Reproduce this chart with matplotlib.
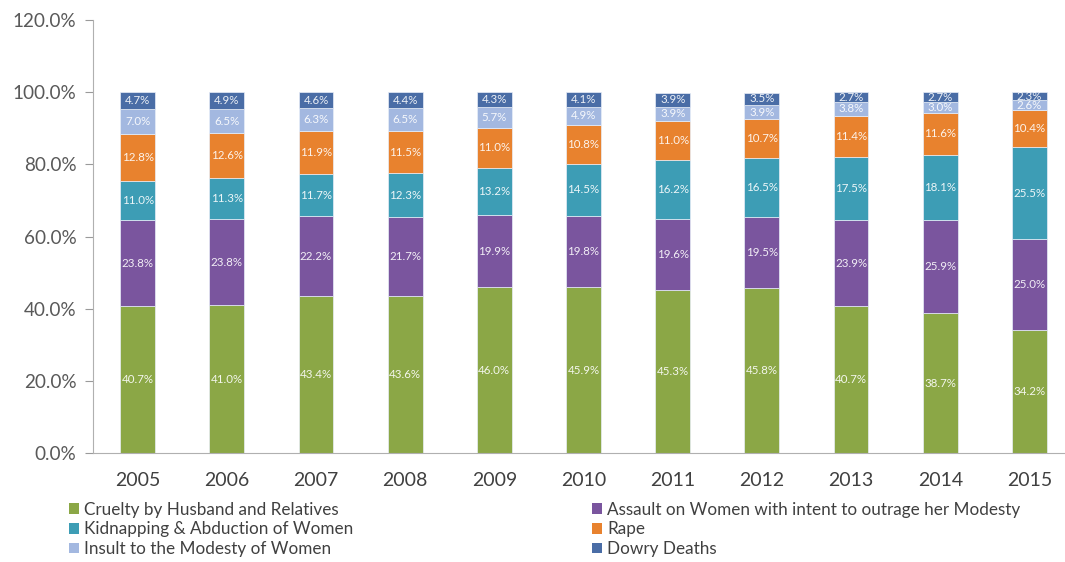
import matplotlib
matplotlib.use("Agg")
import matplotlib.pyplot as plt
from matplotlib.patches import Patch
import numpy as np

years = ["2005", "2006", "2007", "2008", "2009", "2010", "2011", "2012", "2013", "2014", "2015"]
cruelty = [40.7, 41.0, 43.4, 43.6, 46.0, 45.9, 45.3, 45.8, 40.7, 38.7, 34.2]
assault = [23.8, 23.8, 22.2, 21.7, 19.9, 19.8, 19.6, 19.5, 23.9, 25.9, 25.0]
kidnap = [11.0, 11.3, 11.7, 12.3, 13.2, 14.5, 16.2, 16.5, 17.5, 18.1, 25.5]
rape = [12.8, 12.6, 11.9, 11.5, 11.0, 10.8, 11.0, 10.7, 11.4, 11.6, 10.4]
insult = [7.0, 6.5, 6.3, 6.5, 5.7, 4.9, 3.9, 3.9, 3.8, 3.0, 2.6]
dowry = [4.7, 4.9, 4.6, 4.4, 4.3, 4.1, 3.9, 3.5, 2.7, 2.7, 2.3]

series_names = ["Cruelty by Husband and Relatives",
                "Assault on Women with intent to outrage her Modesty",
                "Kidnapping & Abduction of Women",
                "Rape",
                "Insult to the Modesty of Women",
                "Dowry Deaths"]
series_vals = [cruelty, assault, kidnap, rape, insult, dowry]
colors = ["#8BA746", "#7A559E", "#3D9DB5", "#E8822E", "#A3B8E0", "#4A6DA6"]

title = "Proportion of Major Crimes against Women in India (2005 - 2015)"

plt.rcParams['font.family'] = ['Lato', 'DejaVu Sans']

fig = plt.figure(figsize=(10.65, 5.62), dpi=100)
W, H = 1065, 562
ax = fig.add_axes([93 / W, 109 / H, (1074 - 93) / W, (453 - 20) / H])

x = np.arange(len(years))
bottom = np.zeros(len(years))
for name, vals, c in zip(series_names, series_vals, colors):
    v = np.array(vals)
    ax.bar(x, v, 0.39, bottom=bottom, color=c, edgecolor="#e8eef8", linewidth=0.5, label=name)
    for xi, b, val in zip(x, bottom, v):
        ax.text(xi, b + val / 2, f"{val:.1f}%", ha="center", va="center",
                color="white", fontsize=8.3, alpha=0.9)
    bottom += v

ax.set_xlim(-0.5, 10.5)
ax.set_ylim(0, 120)
ax.set_yticks(np.arange(0, 121, 20))
ax.set_yticklabels([f"{t:.1f}%" for t in np.arange(0, 121, 20)])
ax.set_xticks(x)
ax.set_xticklabels(years)
ax.tick_params(axis="y", colors="#9a9a9a", labelcolor="#595959", labelsize=13.6, length=6, width=0.8, pad=6)
ax.tick_params(axis="x", length=0, labelcolor="#404040", labelsize=14, pad=14)
for s in ["top", "right"]:
    ax.spines[s].set_visible(False)
ax.spines["left"].set_color("#b0b0b0")
ax.spines["bottom"].set_color("#b0b0b0")

handles = [Patch(facecolor=c, edgecolor="none") for c in colors]
common = dict(loc="upper left", frameon=False, fontsize=12.3, handlelength=0.6,
              handleheight=0.6, handletextpad=0.3, labelspacing=0.22, borderpad=0,
              labelcolor="#404040")
leg1 = fig.legend([handles[0], handles[2], handles[4]],
                  [series_names[0], series_names[2], series_names[4]],
                  bbox_to_anchor=(60 / W, 1 - 493 / H), **common)
leg2 = fig.legend([handles[1], handles[3], handles[5]],
                  [series_names[1], series_names[3], series_names[5]],
                  bbox_to_anchor=(583 / W, 1 - 493 / H), **common)

fig.text(560 / W, 1 + 5 / H, title, ha="center", va="baseline", fontsize=13,
         fontweight="bold", family=["Liberation Serif"], color="#222222")

fig.savefig("out.png", dpi=100)
